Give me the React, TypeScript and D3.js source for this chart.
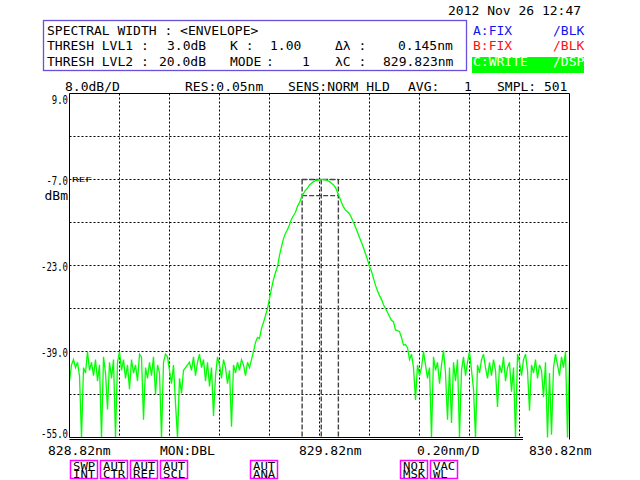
import React from "react";
import * as d3 from "d3";

// ---- data ----
const wlStart = 828.82;
const wlEnd = 830.82;
const wlStep = 0.008;
const levelTop = 9.0;
const levelBottom = -55.0;
const yTickValues = [9.0, -7.0, -23.0, -39.0, -55.0];
const yTickLabels = ["9.0", "-7.0", "-23.0", "-39.0", "-55.0"];
const xTickLabels = ["828.82nm", "829.82nm", "830.82nm"];
const peakDbm = -7.0;
const centerWl = 829.823;
const deltaWl = 0.145;
const threshLvl1 = 3.0;

// sampled trace (dBm), one value per wlStep starting at wlStart
const traceDbm = [
  -44.5, -41.5, -40.5, -42.0, -41.0, -43.5, -55.0, -42.0, -43.0, -39.0,
  -42.5, -41.0, -43.5, -40.5, -44.5, -41.5, -55.0, -40.0, -43.0, -49.8,
  -41.0, -44.0, -40.5, -55.0, -41.0, -39.0, -42.5, -40.5, -44.0, -41.5,
  -46.0, -40.5, -43.0, -41.5, -44.5, -39.5, -40.0, -51.7, -42.0, -44.0,
  -41.0, -43.5, -40.0, -47.0, -41.5, -43.0, -55.0, -41.0, -39.5, -40.0,
  -42.5, -45.0, -41.5, -48.7, -55.0, -44.0, -46.8, -42.5, -42.0, -41.5,
  -41.0, -42.5, -40.0, -43.5, -41.0, -39.5, -42.0, -40.5, -44.5, -41.0,
  -45.5, -42.0, -51.0, -43.5, -40.0, -41.5, -44.0, -40.5, -42.0, -45.0,
  -42.5, -53.0, -41.5, -43.0, -41.0, -42.5, -40.5, -41.5, -43.5, -41.0,
  -42.0, -40.5, -39.0, -37.3, -36.4, -36.6, -34.7, -33.6, -32.3, -31.0,
  -29.1, -27.3, -25.6, -24.3, -23.2, -21.1, -19.5, -18.0, -17.0, -16.3,
  -15.4, -14.4, -13.7, -13.1, -12.0, -11.3, -10.3, -9.6, -9.0, -8.6,
  -8.0, -7.7, -7.4, -7.2, -7.1, -7.05, -7.0, -7.0, -7.05, -7.2,
  -7.4, -7.7, -8.0, -8.5, -9.4, -10.3, -11.3, -12.1, -12.7, -13.0,
  -13.4, -14.1, -15.0, -15.9, -16.8, -17.8, -18.7, -19.7, -20.8, -21.9,
  -23.2, -24.1, -25.4, -26.7, -27.7, -28.6, -29.3, -30.3, -31.0, -31.7,
  -32.5, -33.2, -33.5, -35.0, -35.1, -35.3, -36.4, -37.8, -37.7, -38.3,
  -40.5, -39.5, -42.0, -48.0, -41.5, -43.5, -42.0, -39.0, -41.5, -44.0,
  -42.0, -55.0, -40.0, -42.5, -41.0, -45.0, -41.5, -38.8, -43.0, -51.7,
  -42.0, -52.3, -41.0, -44.5, -40.5, -55.0, -42.5, -40.0, -43.5, -41.0,
  -39.0, -42.5, -46.0, -55.0, -41.5, -43.0, -40.5, -39.5, -42.0, -44.0,
  -41.0, -43.5, -40.5, -42.5, -49.3, -41.5, -43.0, -40.0, -44.5, -42.0,
  -41.0, -46.5, -42.0, -55.0, -39.5, -41.0, -43.5, -40.5, -39.5, -42.5,
  -50.0, -41.5, -43.0, -40.5, -44.0, -41.5, -42.5, -47.5, -41.0, -55.0,
  -43.0, -54.5, -42.0, -39.5, -41.5, -43.5, -40.0, -42.0, -39.0, -55.0,
  -41.0,
];

const bottomKeys = [
  { slot: 0, l1: "SWP", l2: "INT" },
  { slot: 1, l1: "AUT", l2: "CTR" },
  { slot: 2, l1: "AUT", l2: "REF" },
  { slot: 3, l1: "AUT", l2: "SCL" },
  { slot: 6, l1: "AUT", l2: "ANA" },
  { slot: 11, l1: "NOI", l2: "MSK" },
  { slot: 12, l1: "VAC", l2: "WL" },
];

const FONT = "'DejaVu Sans Mono', 'Liberation Mono', monospace";

export default function App() {
  const x = d3.scaleLinear().domain([wlStart, wlEnd]).range([69.5, 569.5]);
  const y = d3.scaleLinear().domain([levelBottom, levelTop]).range([437.5, 93.5]);

  const xGrid = d3.range(1, 10).map((k) => wlStart + (k * (wlEnd - wlStart)) / 10);
  const yGrid = d3.range(1, 8).map((k) => levelBottom + (k * (levelTop - levelBottom)) / 8);

  const line = d3
    .line<number>()
    .x((_, i) => x(wlStart + i * wlStep))
    .y((d) => y(d));

  const left = x(centerWl - deltaWl / 2);
  const right = x(centerWl + deltaWl / 2);
  const mid = x(centerWl);
  const yPeak = y(peakDbm);
  const yThr = y(peakDbm - threshLvl1);

  const labelY = (v: number, i: number) => {
    if (i === 0) return y(v) + 10.5;
    if (i === yTickValues.length - 1) return y(v) + 0.5;
    return y(v) + 5;
  };

  const T = (props: any) => (
    <text fontFamily={FONT} fontSize={13} fill="#000" {...props} />
  );

  return (
    <svg
      width={640}
      height={480}
      style={{ position: "absolute", left: 0, top: 0, background: "#fff" }}
    >
      <rect x={0} y={0} width={640} height={480} fill="#fff" />

      {/* header box */}
      <rect x={43.5} y={20.5} width={423} height={50} fill="none" stroke="#6a50d8" strokeWidth={1.3} />
      <T x={47} y={35}>SPECTRAL WIDTH : &lt;ENVELOPE&gt;</T>
      <T x={47} y={50}>THRESH LVL1 :</T>
      <T x={167} y={50}>3.0dB</T>
      <T x={230} y={50}>K :</T>
      <T x={270} y={50}>1.00</T>
      <T x={335} y={50}>Δλ :</T>
      <T x={398} y={50}>0.145nm</T>
      <T x={47} y={65.5}>THRESH LVL2 :</T>
      <T x={159} y={65.5}>20.0dB</T>
      <T x={230} y={65.5}>MODE</T>
      <T x={266} y={65.5}>:</T>
      <T x={302} y={65.5}>1</T>
      <T x={335} y={65.5}>λC :</T>
      <T x={383} y={65.5}>829.823nm</T>

      {/* right status */}
      <T x={448} y={15}>2012 Nov 26 12:47</T>
      <T x={473} y={35} fill="#1414f0">A:FIX</T>
      <T x={553} y={35} fill="#1414f0">/BLK</T>
      <T x={473} y={50} fill="#ff1010">B:FIX</T>
      <T x={553} y={50} fill="#ff1010">/BLK</T>
      <rect x={472} y={57} width={112} height={16} fill="#00ff00" />
      <T x={473} y={66} fill="#fff">C:WRITE</T>
      <T x={553} y={66} fill="#fff">/DSP</T>

      {/* line above plot */}
      <T x={65} y={90.5}>8.0dB/D</T>
      <T x={185} y={90.5}>RES:0.05nm</T>
      <T x={288} y={90.5}>SENS:NORM HLD</T>
      <T x={408} y={90.5}>AVG:</T>
      <T x={464} y={90.5}>1</T>
      <T x={497} y={90.5}>SMPL: 501</T>

      {/* grid */}
      {xGrid.map((g, i) => (
        <line key={"xg" + i} x1={x(g)} x2={x(g)} y1={y(levelTop)} y2={y(levelBottom)} stroke="#000" strokeWidth={1} strokeDasharray="2,2" />
      ))}
      {yGrid.map((g, i) => (
        <line key={"yg" + i} x1={x(wlStart)} x2={x(wlEnd)} y1={y(g)} y2={y(g)} stroke="#000" strokeWidth={1} strokeDasharray="2,2" />
      ))}

      {/* spectral width markers */}
      <g stroke="#444" strokeWidth={1.4} strokeDasharray="5,2" fill="none">
        <line x1={left} x2={left} y1={yPeak} y2={y(levelBottom)} />
        <line x1={right} x2={right} y1={yPeak} y2={y(levelBottom)} />
        <line x1={mid + 1} x2={mid + 1} y1={yPeak} y2={y(levelBottom)} />
        <line x1={left} x2={right} y1={yPeak} y2={yPeak} />
        <line x1={left} x2={right} y1={yThr} y2={yThr} />
      </g>

      {/* trace */}
      <path d={line(traceDbm) || ""} fill="none" stroke="#00ff00" strokeWidth={1.3} />

      {/* frame */}
      <g stroke="#000" strokeWidth={1}>
        <line x1={x(wlStart)} x2={x(wlEnd)} y1={y(levelTop)} y2={y(levelTop)} />
        <line x1={x(wlStart)} x2={x(wlStart)} y1={y(levelTop)} y2={y(levelBottom)} />
        <line x1={x(wlEnd)} x2={x(wlEnd)} y1={y(levelTop)} y2={y(levelBottom) + 2} />
        <line x1={x(wlStart)} x2={523} y1={y(levelBottom)} y2={y(levelBottom)} />
        <line x1={x(wlStart)} x2={523} y1={y(levelBottom) + 2} y2={y(levelBottom) + 2} />
      </g>

      {/* y labels */}
      {yTickValues.map((v, i) => (
        <T
          key={"yl" + i}
          x={68}
          y={labelY(v, i)}
          textAnchor="end"
          textLength={yTickLabels[i].length * 5.4}
          lengthAdjust="spacingAndGlyphs"
        >
          {yTickLabels[i]}
        </T>
      ))}
      <T x={68} y={200} textAnchor="end">dBm</T>
      <T x={72} y={182} fontSize={7} textLength={20} lengthAdjust="spacingAndGlyphs">REF</T>

      {/* x labels */}
      <T x={48} y={455}>{xTickLabels[0]}</T>
      <T x={160} y={455}>MON:DBL</T>
      <T x={299} y={455}>{xTickLabels[1]}</T>
      <T x={417} y={455}>0.20nm/D</T>
      <T x={529} y={455}>{xTickLabels[2]}</T>

      {/* soft keys */}
      {bottomKeys.map((k) => {
        const bx = 70 + k.slot * 30;
        return (
          <g key={"bk" + k.slot}>
            <rect x={bx + 0.5} y={460.5} width={27} height={18} fill="none" stroke="#ff00ff" strokeWidth={1.5} />
            <text fontFamily={FONT} fontSize={10.5} fill="#000">
              <tspan x={bx + 3} y={469.5} textLength={k.l1.length * 7.6 - 0.6} lengthAdjust="spacingAndGlyphs">
                {k.l1}
              </tspan>
              <tspan x={bx + 3} y={477.5} textLength={k.l2.length * 7.6 - 0.6} lengthAdjust="spacingAndGlyphs">
                {k.l2}
              </tspan>
            </text>
          </g>
        );
      })}
    </svg>
  );
}
